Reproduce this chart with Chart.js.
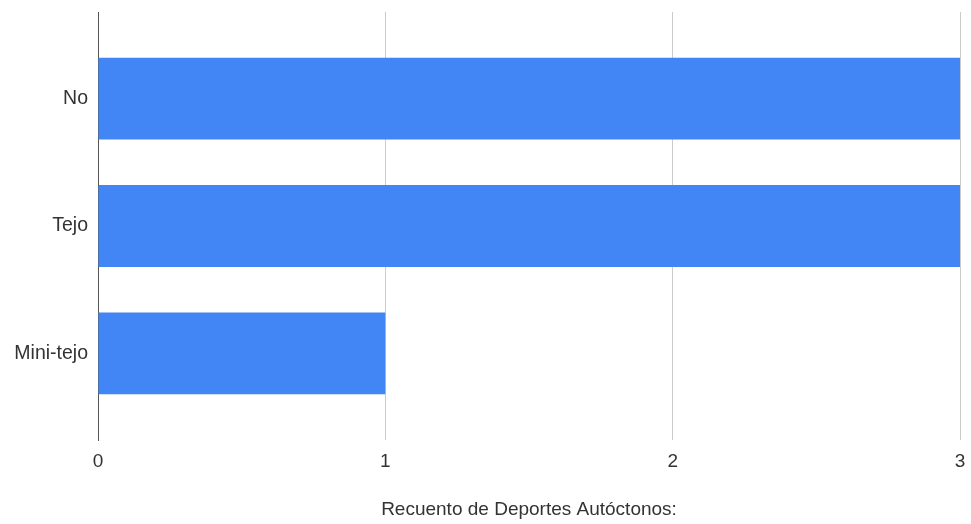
<!DOCTYPE html>
<html>
<head>
<meta charset="utf-8">
<script src="https://cdn.jsdelivr.net/npm/chart.js@4/dist/chart.umd.min.js"></script>
<style>
  html, body { margin: 0; padding: 0; background: #fff; }
  #wrap { width: 971px; height: 524px; }
</style>
</head>
<body>
<div id="wrap"><canvas id="barChart"></canvas></div>
<script>
const categories = ['No', 'Tejo', 'Mini-tejo'];
const counts = [3, 3, 1];
const xTicks = [0, 1, 2, 3];
const axisTitle = 'Recuento de Deportes Autóctonos:';

const FONT = 'Arial, "Liberation Sans", sans-serif';

// bars sit on a linear index axis so the category band can be narrower than the plot
const points = categories.map((c, i) => ({ x: counts[i], y: i }));

const ctx = document.getElementById('barChart').getContext('2d');
new Chart(ctx, {
    type: 'bar',
    data: {
        datasets: [{
            label: axisTitle,
            data: points,
            backgroundColor: '#4285F4',
            borderWidth: 0,
            barPercentage: 0.643,
            categoryPercentage: 1
        }]
    },
    options: {
        indexAxis: 'y',
        responsive: true,
        maintainAspectRatio: false,
        animation: false,
        layout: { padding: { top: 12, right: 11, left: 0, bottom: 0 } },
        plugins: {
            legend: { display: false },
            tooltip: { enabled: false }
        },
        scales: {
            x: {
                type: 'linear',
                min: xTicks[0],
                max: xTicks[xTicks.length - 1],
                afterBuildTicks: (scale) => { scale.ticks = xTicks.map(v => ({ value: v })); },
                afterFit: (scale) => {
                    scale.height = 84;
                    scale.paddingLeft = 0;
                    scale.paddingRight = 0;
                },
                grid: {
                    color: (c) => c.index === 0 ? '#555555' : '#cccccc',
                    lineWidth: 1,
                    drawTicks: false
                },
                border: { display: false },
                ticks: {
                    padding: 10,
                    color: '#333333',
                    font: { family: FONT, size: 19 }
                },
                title: {
                    display: true,
                    text: axisTitle,
                    color: '#333333',
                    font: { family: FONT, size: 19 },
                    padding: { top: 0, bottom: 3 }
                }
            },
            y: {
                type: 'linear',
                reverse: true,
                offset: false,
                min: -0.68,
                max: 2.68,
                afterBuildTicks: (scale) => { scale.ticks = categories.map((c, i) => ({ value: i })); },
                afterFit: (scale) => {
                    scale.width = 98;
                    scale.paddingTop = 0;
                    scale.paddingBottom = 0;
                },
                grid: { display: false, drawTicks: false, offset: false },
                border: { display: true, color: '#555555', width: 1 },
                ticks: {
                    padding: 10,
                    color: '#333333',
                    font: { family: FONT, size: 19.5 },
                    callback: (v) => categories[v]
                }
            }
        }
    }
});
</script>
</body>
</html>
